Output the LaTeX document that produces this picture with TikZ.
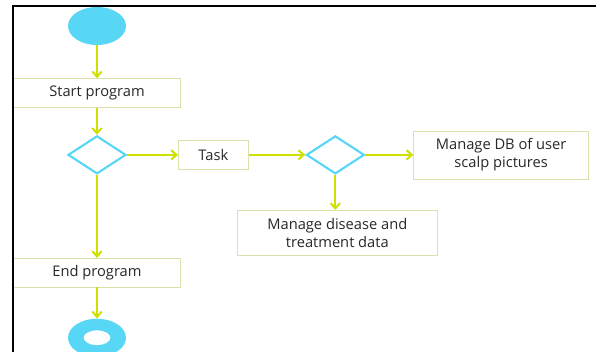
\documentclass[tikz,border=0pt]{standalone}
\usepackage{fontspec}
\setmainfont{Open Sans}
\usepackage{tikz}
\usetikzlibrary{shapes.geometric, arrows.meta, positioning}
\definecolor{flowcyan}{RGB}{88, 214, 246}
\definecolor{flowlime}{RGB}{206, 224, 0}
\definecolor{boxedge}{RGB}{218, 226, 170}
\definecolor{textgray}{RGB}{40, 40, 40}

\begin{document}
\begin{tikzpicture}[x=0.75pt, y=-0.75pt,
    terminal/.style={ellipse, minimum width=43.5pt, minimum height=28.5pt,
                     fill=flowcyan, inner sep=0pt},
    process/.style={rectangle, minimum width=125pt, minimum height=21.75pt,
                    text centered, draw=boxedge, fill=white, text=textgray,
                    font=\fontsize{11}{13.5}\selectfont},
    decision/.style={diamond, minimum width=43.5pt, minimum height=28.5pt,
                     inner sep=0pt, draw=flowcyan, line width=1.6pt},
    arrow/.style={-{Straight Barb[length=4pt, width=7pt]}, line width=1.5pt, flowlime}
]
\useasboundingbox (0,0) rectangle (596,352);

\node[terminal] (start) at (97,26) {};
\node[process, below=24.75pt of start] (startprog) {Start program};
\node[decision, below=20.25pt of startprog] (choice) {};

\node[process, minimum width=52.5pt, right=38.25pt of choice] (task) {Task};
\node[decision, right=42.5pt of task] (taskchoice) {};
\node[process, minimum width=131.25pt, minimum height=36pt, align=center,
      right=36pt of taskchoice] (userdb) {Manage DB of user\\scalp pictures};
\node[process, minimum width=150pt, minimum height=33.75pt, align=center,
      below=26.25pt of taskchoice, xshift=1.5pt] (disease)
    {Manage disease and\\treatment data};

\node[process, below=62.25pt of choice] (endprog) {End program};
\node[terminal, below=23.25pt of endprog,
      path picture={\fill[white] (path picture bounding box.center) ellipse (10pt and 5.5pt);}]
      (stop) {};

\draw[arrow] (start) -- (startprog);
\draw[arrow] (startprog) -- (choice);
\draw[arrow] (choice) -- (task);
\draw[arrow] (task) -- (taskchoice);
\draw[arrow] (taskchoice) -- (userdb);
\draw[arrow] (taskchoice.south) -- (taskchoice.south |- disease.north);
\draw[arrow] (choice) -- (endprog);
\draw[arrow] (endprog) -- (stop);

% frame of the page
\draw[line width=1.2pt] (13,352) -- (13,6) -- (596,6);

\end{tikzpicture}
\end{document}
